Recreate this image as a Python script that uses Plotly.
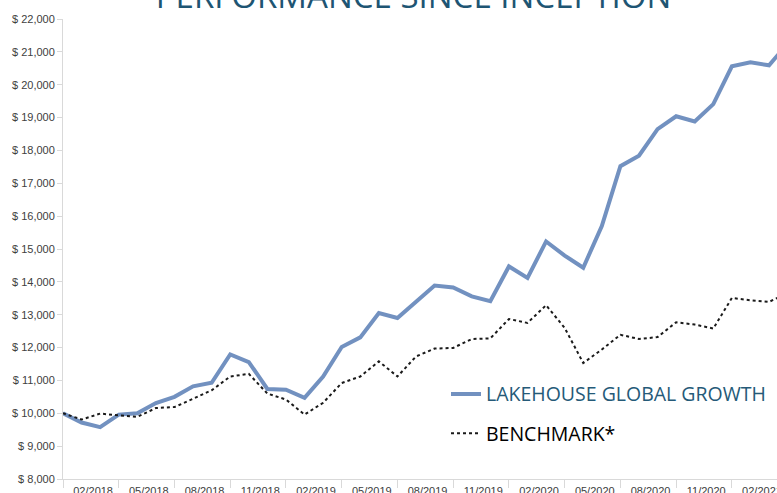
import plotly.graph_objects as go

# Month-end values since inception (index 0 = inception)
fund_values = [10000, 9720, 9580, 9960, 10000, 10310, 10500, 10820, 10930, 11790,
               11560, 10740, 10720, 10470, 11120, 12020, 12310, 13050, 12900, 13410,
               13890, 13830, 13560, 13410, 14470, 14120, 15230, 14800, 14430, 15700,
               17520, 17840, 18650, 19040, 18880, 19410, 20560, 20680, 20590, 21250]
bench_values = [10000, 9810, 9990, 9930, 9890, 10160, 10190, 10440, 10700, 11120,
                11200, 10600, 10420, 9960, 10320, 10920, 11120, 11580, 11120, 11730,
                11970, 11990, 12260, 12280, 12870, 12750, 13290, 12600, 11530, 11940,
                12390, 12260, 12320, 12770, 12700, 12580, 13510, 13440, 13390, 13660]
tick_labels = ["02/2018", "05/2018", "08/2018", "11/2018", "02/2019", "05/2019",
               "08/2019", "11/2019", "02/2020", "05/2020", "08/2020", "11/2020", "02/2021"]
fund_name = "LAKEHOUSE GLOBAL GROWTH"
bench_name = "BENCHMARK*"

x = list(range(len(fund_values)))
label_pos = [1.62 + 3 * k for k in range(len(tick_labels))]
minor_pos = [3 * k for k in range(14)]

fig = go.Figure()
fig.add_trace(go.Scatter(
    x=x, y=fund_values, mode="lines",
    name="<span style='color:#255a78'>" + fund_name + "</span>",
    line=dict(color="#7291c0", width=4), legendgroup="a"))
fig.add_trace(go.Scatter(
    x=x, y=bench_values, mode="lines",
    name="<span style='color:#000000'>" + bench_name + "</span>",
    line=dict(color="#1a1a1a", width=2, dash="dot"), legendgroup="b"))

fig.update_layout(
    width=777, height=493,
    margin=dict(l=63, r=0, t=19, b=14, autoexpand=False),
    paper_bgcolor="white", plot_bgcolor="white",
    title=dict(text="PERFORMANCE SINCE INCEPTION",
               font=dict(family="Open Sans", size=33, color="#1e5573"),
               x=413.5 / 777, xanchor="center", xref="container",
               y=1 - 8.3 / 493, yanchor="bottom", yref="container",
               automargin=False),
    showlegend=True,
    legend=dict(x=(446 - 63) / 714, xanchor="left",
                y=(479.3 - 375) / 460, yanchor="top",
                font=dict(family="Open Sans", size=19.5, color="#255a78"),
                traceorder="grouped", tracegroupgap=11,
                bgcolor="rgba(0,0,0,0)", borderwidth=0),
    xaxis=dict(range=[0, 714 / 18.58], showgrid=False, zeroline=False,
               showline=True, linecolor="#d9d9d9", linewidth=1, automargin=False,
               tickmode="array", tickvals=label_pos, ticktext=tick_labels,
               ticks="outside", ticklen=2, tickcolor="rgba(0,0,0,0)",
               ticklabeloverflow="allow",
               tickfont=dict(family="Liberation Sans", size=11, color="#404040"),
               minor=dict(tickmode="array", tickvals=minor_pos, ticks="outside",
                          ticklen=8, tickcolor="#d9d9d9", tickwidth=1, showgrid=False)),
    yaxis=dict(range=[8000, 22000], dtick=1000, tick0=8000, showgrid=False,
               zeroline=False, showline=True, linecolor="#d9d9d9", linewidth=1,
               automargin=False,
               ticks="outside", ticklen=5, tickcolor="#d9d9d9",
               tickprefix="$ ", tickformat=",d",
               tickfont=dict(family="Liberation Sans", size=11, color="#404040")),
)

fig.write_html("out.html")
